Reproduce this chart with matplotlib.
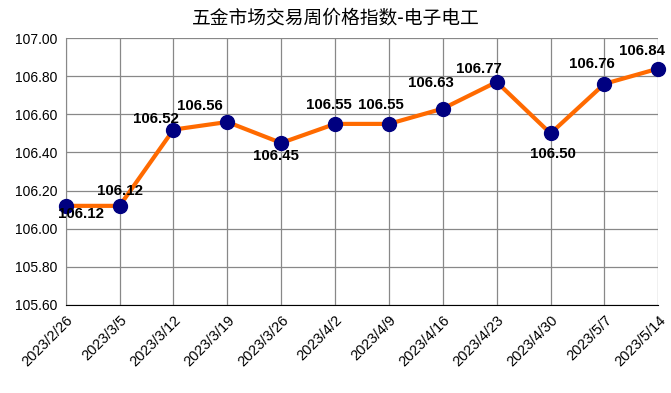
import matplotlib.pyplot as plt

plt.rcParams['font.family'] = ['Liberation Sans', 'Noto Sans CJK SC', 'DejaVu Sans']

# 數據
dates = ['2023/2/26', '2023/3/5', '2023/3/12', '2023/3/19', '2023/3/26', '2023/4/2',
         '2023/4/9', '2023/4/16', '2023/4/23', '2023/4/30', '2023/5/7', '2023/5/14']
values = [106.12, 106.12, 106.52, 106.56, 106.45, 106.55,
          106.55, 106.63, 106.77, 106.50, 106.76, 106.84]
yticks = [105.60, 105.80, 106.00, 106.20, 106.40, 106.60, 106.80, 107.00]

# 標籤偏移 (px)
label_dx = [15, 0, -18, -27, -5, -6, -8, -12, -18, 2, -13, -16]
label_dy = [-8, 15, 11, 16, -13, 19, 19, 26, 13, -21, 20, 18]

fig = plt.figure(figsize=(6.71, 3.93), dpi=100)
ax = fig.add_axes([0.098, 0.224, 0.883, 0.679])

x = list(range(len(dates)))
ax.plot(x, values, color='#FF6A00', linewidth=3, zorder=3, clip_on=False)
ax.plot(x, values, 'o', color='#000080', markersize=10, zorder=4, clip_on=False)

for i, v in enumerate(values):
    ax.annotate(f'{v:.2f}', (i, v), xytext=(label_dx[i] * 0.72, label_dy[i] * 0.72),
                textcoords='offset points', ha='center', va='center',
                fontsize=10.8, fontweight='bold', zorder=5)

ax.set_xlim(0, len(dates) - 1)
ax.set_ylim(105.60, 107.00)
ax.set_yticks(yticks)
ax.set_yticklabels([f'{t:.2f}' for t in yticks], fontsize=10)
ax.set_xticks(x)
ax.set_xticklabels(dates, rotation=45, ha='right', rotation_mode='anchor', fontsize=10.5)
ax.tick_params(length=0, pad=6)
ax.grid(True, color='#888888', linewidth=0.9)
ax.set_axisbelow(True)
for s in ['top', 'right']:
    ax.spines[s].set_visible(False)
ax.spines['left'].set_color('#888888')
ax.spines['bottom'].set_color('black')

fig.text(0.5, 0.955, '五金市场交易周价格指数-电子电工', ha='center', va='center',
         fontsize=13.5, family=['Noto Sans CJK SC', 'DejaVu Sans'])

plt.savefig('out.png', dpi=100)
